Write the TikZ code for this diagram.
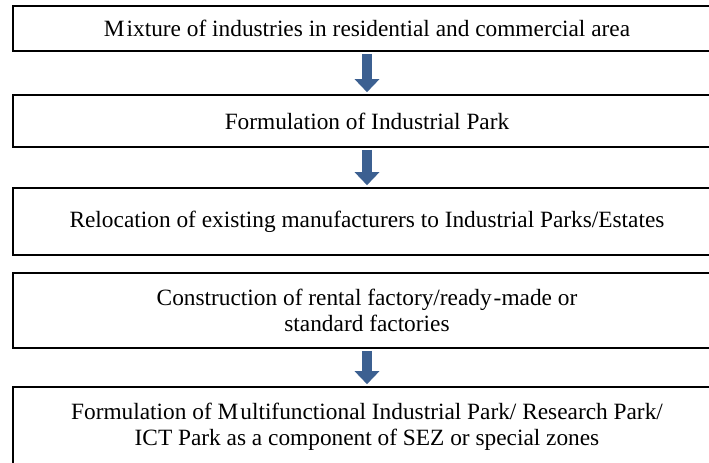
\documentclass[tikz,border=0pt]{standalone}
\usepackage{fontspec}
\setmainfont{Liberation Serif}
\usetikzlibrary{arrows.meta}
\definecolor{arrowblue}{RGB}{60,96,145}
\tikzset{
  stepbox/.style={draw=black, line width=1.2pt, minimum width=531pt, inner sep=0pt,
    align=center, font=\fontsize{17.5}{19.5}\selectfont},
  flowarrow/.style={draw=arrowblue, line width=7.5pt,
    -{Triangle[width=18pt,length=9.75pt]}, arrowblue, shorten <=1.5pt, shorten >=1.5pt}
}
\begin{document}
\begin{tikzpicture}[x=0.75pt,y=-0.75pt]
\clip (0,0) rectangle (709,463);
\fill[white] (0,0) rectangle (709,463);
\node[stepbox, minimum height=33.75pt] (b1) at (367,28.5)
  {M\kern1.5pt ixture of industries in residential and commercial area};
\node[stepbox, minimum height=39pt] (b2) at (367,121)
  {Formulation of Industrial Park};
\node[stepbox, minimum height=50.25pt] (b3) at (367,221.5)
  {Relocation of existing manufacturers to Industrial Parks/Estates};
\node[stepbox, minimum height=56.25pt] (b4) at (367,310.5)
  {Construction of rental factory/ready\kern1.5pt-made or\\standard factories};
\node[stepbox, minimum height=60pt] (b5) at (367,427)
  {Formulation of M\kern1.5pt ultifunctional Industrial Park/ Research Park/\\ICT Park as a component of SEZ or special zones};
\draw[flowarrow] (b1.south) -- (b2.north);
\draw[flowarrow] (b2.south) -- (b3.north);
\draw[flowarrow] (b4.south) -- (b5.north);
\end{tikzpicture}
\end{document}
